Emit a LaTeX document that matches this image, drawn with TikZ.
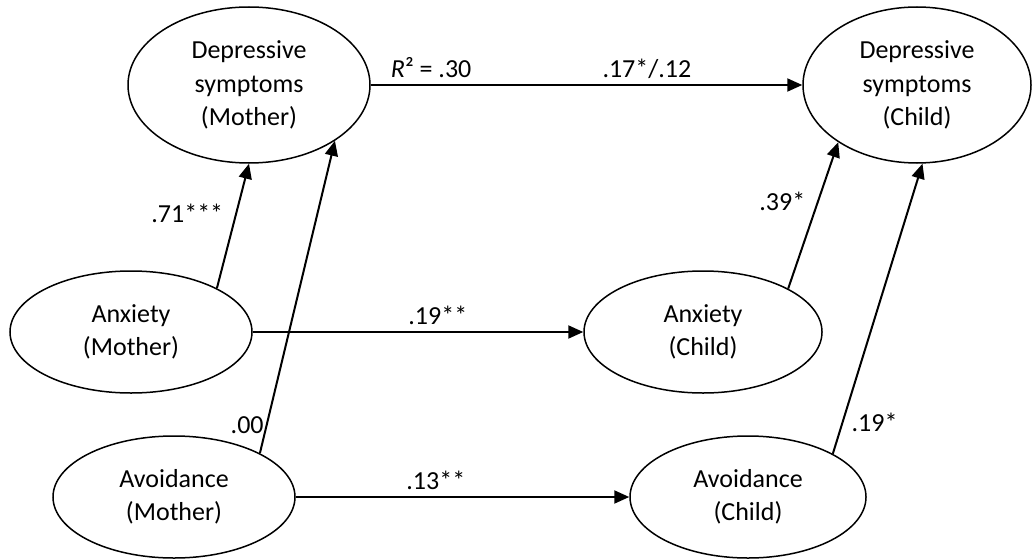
\documentclass[tikz,border=0pt]{standalone}
\usepackage{fontspec}
\setmainfont{Carlito}
\usetikzlibrary{shapes.geometric,arrows.meta,positioning}

\tikzset{
  latent/.style={ellipse, draw, line width=1.5pt, inner sep=0pt, align=center,
    minimum width=240pt, minimum height=122pt, font=\fontsize{26}{33.5}\selectfont},
  effect/.style={line width=2pt, -{Triangle[length=15pt,width=13pt]}},
  coef/.style={inner sep=0pt, text depth=0pt, font=\fontsize{26}{30}\selectfont}
}

\begin{document}
\begin{tikzpicture}[x=1pt,y=-1pt]
    \useasboundingbox (0,0) rectangle (1032,559);
    % mother
    \node[latent, minimum width=242pt, minimum height=156pt] (depm) at (249,85) {Depressive\\symptoms\\(Mother)};
    \node[latent, minimum width=242pt] (anxm) at (131,332) {Anxiety\\(Mother)};
    \node[latent, minimum width=242pt] (avom) at (174,497) {Avoidance\\(Mother)};
    % child
    \node[latent, minimum width=228pt, minimum height=156pt] (depc) at (917,85) {Depressive\\symptoms\\(Child)};
    \node[latent, minimum width=238pt] (anxc) at (703,332) {Anxiety\\(Child)};
    \node[latent, minimum width=236pt] (avoc) at (748,497) {Avoidance\\(Child)};

    \draw[effect] (depm) -- node[coef, pos=.14, above=6pt] {\textit{R}² = .30}
                            node[coef, pos=.64, above=6pt] {.17*/.12} (depc);
    \draw[effect] (anxm) -- node[coef, pos=.56, above=7pt] {.19**} (anxc);
    \draw[effect] (avom) -- node[coef, pos=.42, above=7pt] {.13**} (avoc);

    \draw[effect] (anxm.27) -- node[coef, pos=.6, left=12pt] {.71***} (depm.south);
    \draw[effect] (avom.27) -- node[coef, pos=.09, left=2pt] {.00} (depm.-33);
    \draw[effect] (anxc.27) -- node[coef, pos=.6, left=12pt] {.39*} (depc.-144);
    \draw[effect] (avoc.27) -- node[coef, pos=.11, right=8pt] {.19*} (depc.-86);
\end{tikzpicture}
\end{document}
